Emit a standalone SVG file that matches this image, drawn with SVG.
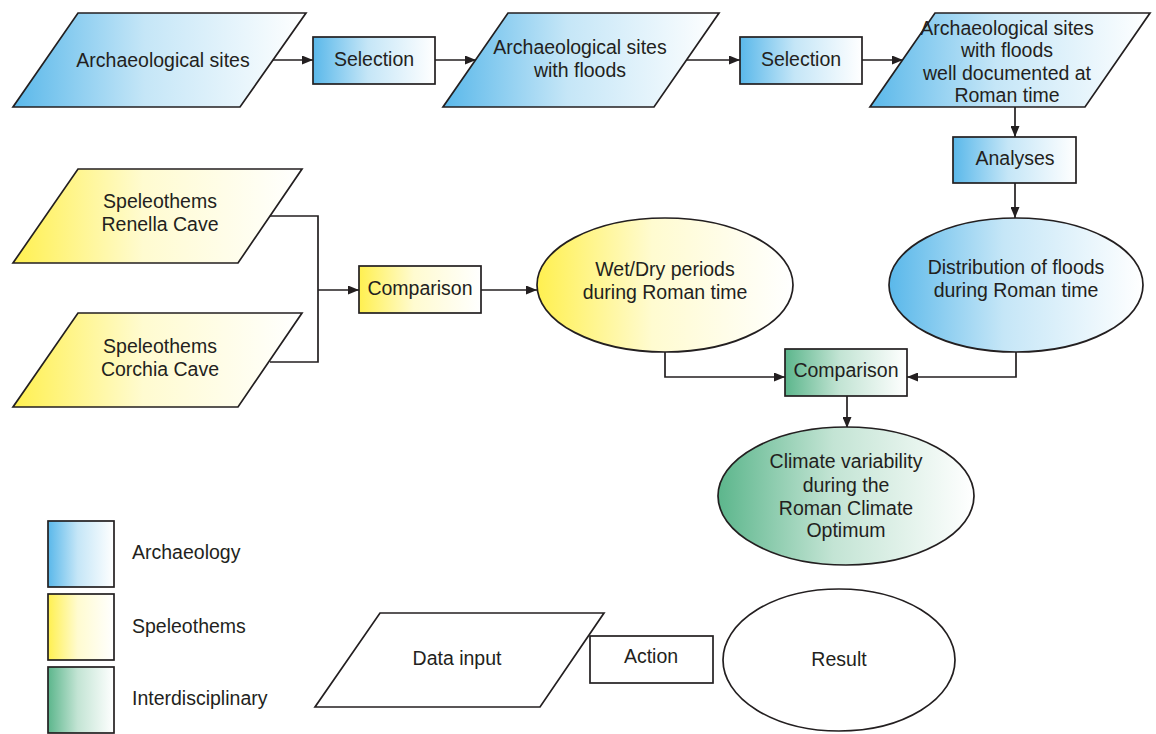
<svg xmlns="http://www.w3.org/2000/svg" width="1156" height="734" viewBox="0 0 1156 734">
<defs>
<linearGradient id="gBlue" x1="0" y1="0" x2="1" y2="0"><stop offset="0" stop-color="#5ab8ea"/><stop offset="0.45" stop-color="#c5e6f7"/><stop offset="1" stop-color="#ffffff"/></linearGradient>
<linearGradient id="gYellow" x1="0" y1="0" x2="1" y2="0"><stop offset="0" stop-color="#fff050"/><stop offset="0.45" stop-color="#fffbd0"/><stop offset="1" stop-color="#ffffff"/></linearGradient>
<linearGradient id="gGreen" x1="0" y1="0" x2="1" y2="0"><stop offset="0" stop-color="#5cb68c"/><stop offset="0.45" stop-color="#c3e4d4"/><stop offset="1" stop-color="#ffffff"/></linearGradient>
<marker id="arr" markerWidth="11" markerHeight="9" refX="11" refY="4.5" orient="auto" markerUnits="userSpaceOnUse"><path d="M0,0 L11,4.5 L0,9 z" fill="#231f20"/></marker>
</defs>
<style>
.s{stroke:#231f20;stroke-width:1.7}
.b{fill:url(#gBlue)}
.y{fill:url(#gYellow)}
.g{fill:url(#gGreen)}
.w{fill:#ffffff}
text{font-family:"Liberation Sans",Arial,sans-serif;font-size:19.5px;fill:#231f20;text-anchor:middle}
.l{text-anchor:start}
.c{fill:none;stroke:#231f20;stroke-width:1.7}
</style>
<g id="connectors">
<line class="c" x1="273" y1="60" x2="313" y2="60" marker-end="url(#arr)"/>
<line class="c" x1="435" y1="60" x2="476" y2="60" marker-end="url(#arr)"/>
<line class="c" x1="686" y1="60" x2="740" y2="60" marker-end="url(#arr)"/>
<line class="c" x1="862" y1="60" x2="903" y2="60" marker-end="url(#arr)"/>
<line class="c" x1="1015" y1="107" x2="1015" y2="137" marker-end="url(#arr)"/>
<line class="c" x1="1015" y1="183" x2="1015" y2="218" marker-end="url(#arr)"/>
<polyline class="c" points="270,216 318,216 318,362 270,362"/>
<line class="c" x1="318" y1="290" x2="359" y2="290" marker-end="url(#arr)"/>
<line class="c" x1="481" y1="290" x2="537" y2="290" marker-end="url(#arr)"/>
<polyline class="c" points="665,352 665,377 785,377" marker-end="url(#arr)"/>
<polyline class="c" points="1016,352 1016,377 907,377" marker-end="url(#arr)"/>
<line class="c" x1="847" y1="396" x2="847" y2="428" marker-end="url(#arr)"/>
</g>
<g id="n-arch-sites">
<polygon class="s b" points="78,13 306,13 240,107 13,107"/>
<text x="163" y="67">Archaeological sites</text>
</g>
<g id="n-selection1">
<rect class="s b" x="313" y="37" width="122" height="47"/>
<text x="374" y="66">Selection</text>
</g>
<g id="n-arch-floods">
<polygon class="s b" points="508,13 719,13 654,107 443,107"/>
<text x="580" y="54">Archaeological sites</text>
<text x="580" y="77">with floods</text>
</g>
<g id="n-selection2">
<rect class="s b" x="740" y="37" width="122" height="47"/>
<text x="801" y="66">Selection</text>
</g>
<g id="n-arch-documented">
<polygon class="s b" points="935,13 1150,13 1085,107 870,107"/>
<text x="1007" y="35">Archaeological sites</text>
<text x="1007" y="57">with floods</text>
<text x="1007" y="80">well documented at</text>
<text x="1007" y="102">Roman time</text>
</g>
<g id="n-analyses">
<rect class="s b" x="953" y="137" width="123" height="46"/>
<text x="1015" y="165">Analyses</text>
</g>
<g id="n-distribution">
<ellipse class="s b" cx="1016" cy="285" rx="127" ry="67"/>
<text x="1016" y="274">Distribution of floods</text>
<text x="1016" y="297">during Roman time</text>
</g>
<g id="n-renella">
<polygon class="s y" points="78,169 302,169 238,263 13,263"/>
<text x="160" y="208">Speleothems</text>
<text x="160" y="231">Renella Cave</text>
</g>
<g id="n-corchia">
<polygon class="s y" points="78,313 302,313 238,407 13,407"/>
<text x="160" y="353">Speleothems</text>
<text x="160" y="376">Corchia Cave</text>
</g>
<g id="n-comparison1">
<rect class="s y" x="359" y="266" width="122" height="47"/>
<text x="420" y="295">Comparison</text>
</g>
<g id="n-wetdry">
<ellipse class="s y" cx="665" cy="285" rx="128" ry="67"/>
<text x="665" y="276">Wet/Dry periods</text>
<text x="665" y="299">during Roman time</text>
</g>
<g id="n-comparison2">
<rect class="s g" x="785" y="349" width="122" height="47"/>
<text x="846" y="377">Comparison</text>
</g>
<g id="n-climate">
<ellipse class="s g" cx="846" cy="496" rx="128" ry="69"/>
<text x="846" y="468">Climate variability</text>
<text x="846" y="492">during the</text>
<text x="846" y="515">Roman Climate</text>
<text x="846" y="537">Optimum</text>
</g>
<g id="legend-archaeology">
<rect class="s b" x="48" y="521" width="66" height="66"/>
<text class="l" x="132" y="559">Archaeology</text>
</g>
<g id="legend-speleothems">
<rect class="s y" x="48" y="594" width="66" height="66"/>
<text class="l" x="132" y="633">Speleothems</text>
</g>
<g id="legend-interdisciplinary">
<rect class="s g" x="48" y="667" width="66" height="66"/>
<text class="l" x="132" y="705">Interdisciplinary</text>
</g>
<g id="legend-data-input">
<polygon class="s w" points="380,613 604,613 540,707 315,707"/>
<text x="457" y="665">Data input</text>
</g>
<g id="legend-action">
<rect class="s w" x="590" y="636" width="123" height="47"/>
<text x="651" y="663">Action</text>
</g>
<g id="legend-result">
<ellipse class="s w" cx="839" cy="660" rx="116" ry="71"/>
<text x="839" y="666">Result</text>
</g>
</svg>
